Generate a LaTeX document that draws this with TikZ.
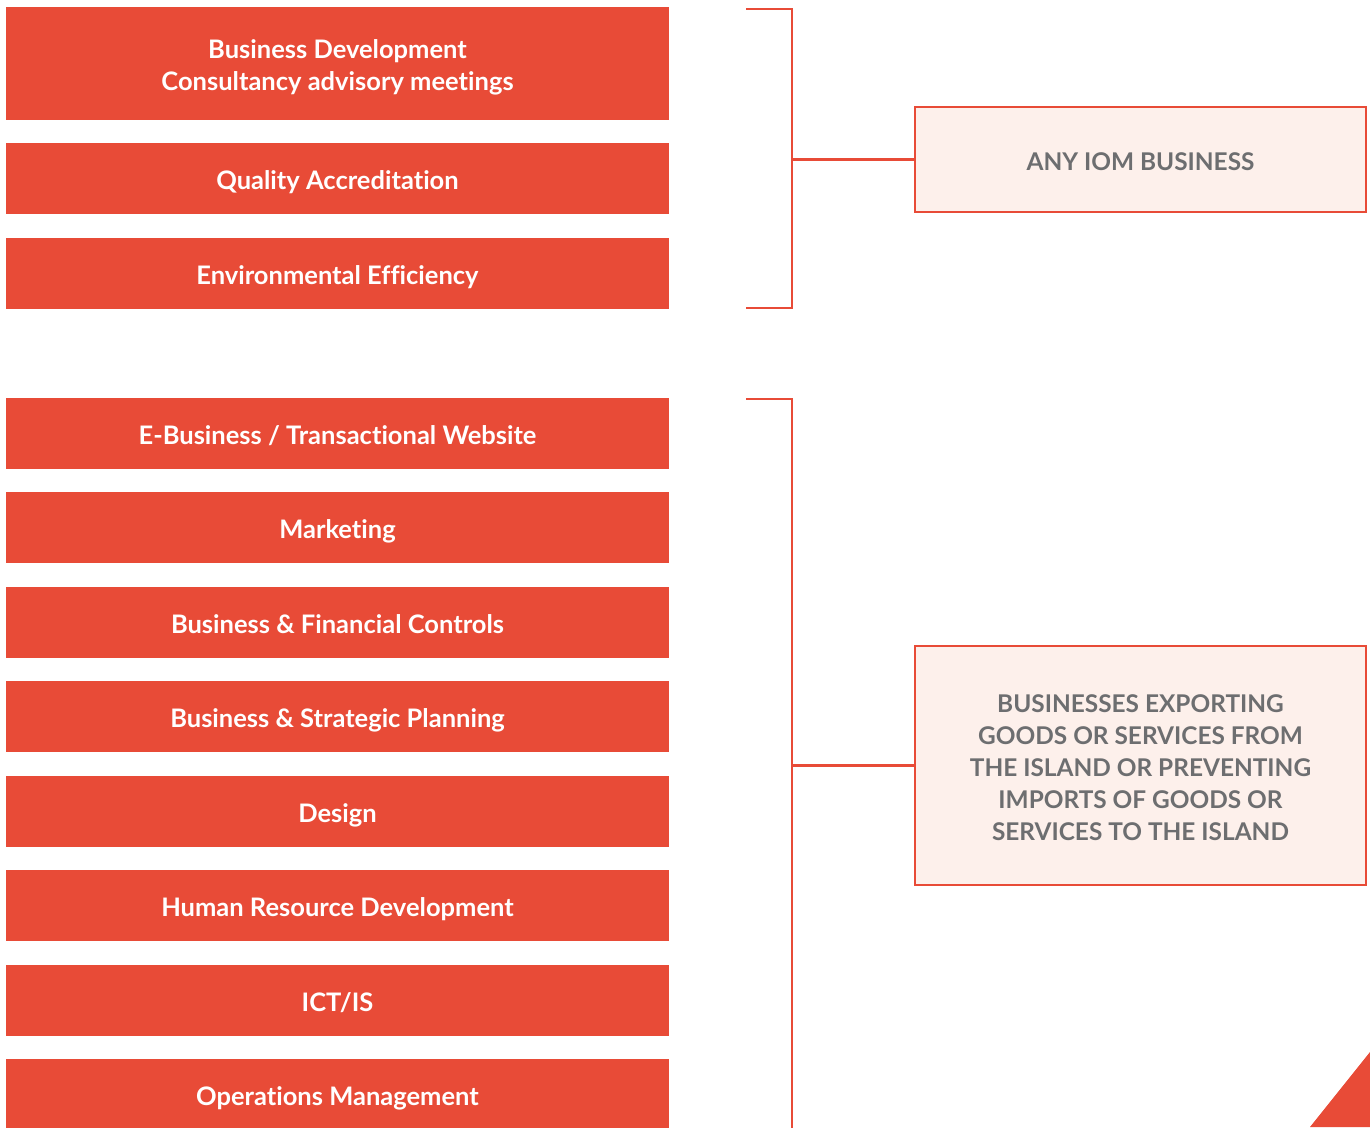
\documentclass[tikz,border=0pt]{standalone}
\usepackage{fontspec}
\setmainfont{Lato}[Ligatures=NoCommon]
\definecolor{iomred}{HTML}{E84B37}
\definecolor{iompink}{HTML}{FDF0EB}
\definecolor{iomgrey}{HTML}{6D6E70}

\tikzstyle{service}=[shape=rectangle,fill=iomred,text=white,minimum width=663pt,minimum height=71pt,inner sep=0pt,font=\fontsize{25.5}{32}\selectfont\bfseries,align=center,text height=21pt,text depth=0pt]
\tikzstyle{target}=[shape=rectangle,draw=iomred,fill=iompink,line width=2.5pt,text=iomgrey,minimum width=451pt,inner sep=0pt,font=\fontsize{24.4}{32}\selectfont\bfseries,align=center,text height=17.5pt,text depth=0pt]
\tikzstyle{bracket}=[draw=iomred,line width=2.8pt]

\begin{document}
\begin{tikzpicture}[x=1pt,y=-1pt]
\useasboundingbox (0,0) rectangle (1370,1127);
% 1st group
\node[service,minimum height=113pt,text height=53pt] (bizdev) at (337.5,63.5) {Business Development\\Consultancy advisory meetings};
\node[service] (quality) at (337.5,178.5) {Quality Accreditation};
\node[service] (enviro)  at (337.5,273.5) {Environmental Efficiency};
% 2nd group
\node[service] (ebiz)    at (337.5,433.5)  {E-Business / Transactional Website};
\node[service] (market)  at (337.5,527.5)  {Marketing};
\node[service] (finance) at (337.5,622.5)  {Business \& Financial Controls};
\node[service] (plan)    at (337.5,716.5)  {Business \& Strategic Planning};
\node[service] (design)  at (337.5,811.5)  {Design};
\node[service] (hr)      at (337.5,905.5)  {Human Resource Development};
\node[service] (ict)     at (337.5,1000.5) {ICT/IS};
\node[service] (ops)     at (337.5,1094.5) {Operations Management};
% targets
\node[target,minimum height=105pt,text height=21.5pt] (anyiom) at (1140.5,159.5) {ANY IOM BUSINESS};
\node[target,minimum height=239pt,text height=149pt] (export) at (1140.5,765.5)
    {BUSINESSES EXPORTING\\GOODS OR SERVICES FROM\\THE ISLAND OR PREVENTING\\IMPORTS OF GOODS OR\\SERVICES TO THE ISLAND};
% brackets
\coordinate (b1top) at (746,9);
\coordinate (b1bot) at (746,308);
\coordinate (b1spine) at (792,9);
\draw[bracket] (b1top) -- (b1spine) |- (b1bot);
\draw[bracket] (anyiom.west) -- (anyiom.west -| b1spine);
\coordinate (b2top) at (746,399);
\coordinate (b2spine) at (792,399);
\coordinate (b2end) at (792,1130);
\draw[bracket] (b2top) -- (b2spine) -- (b2end);
\draw[bracket] (export.west) -- (export.west -| b2spine);
% corner
\fill[iomred] (1310,1127) -- (1370,1052) -- (1370,1127) -- cycle;
\end{tikzpicture}
\end{document}
